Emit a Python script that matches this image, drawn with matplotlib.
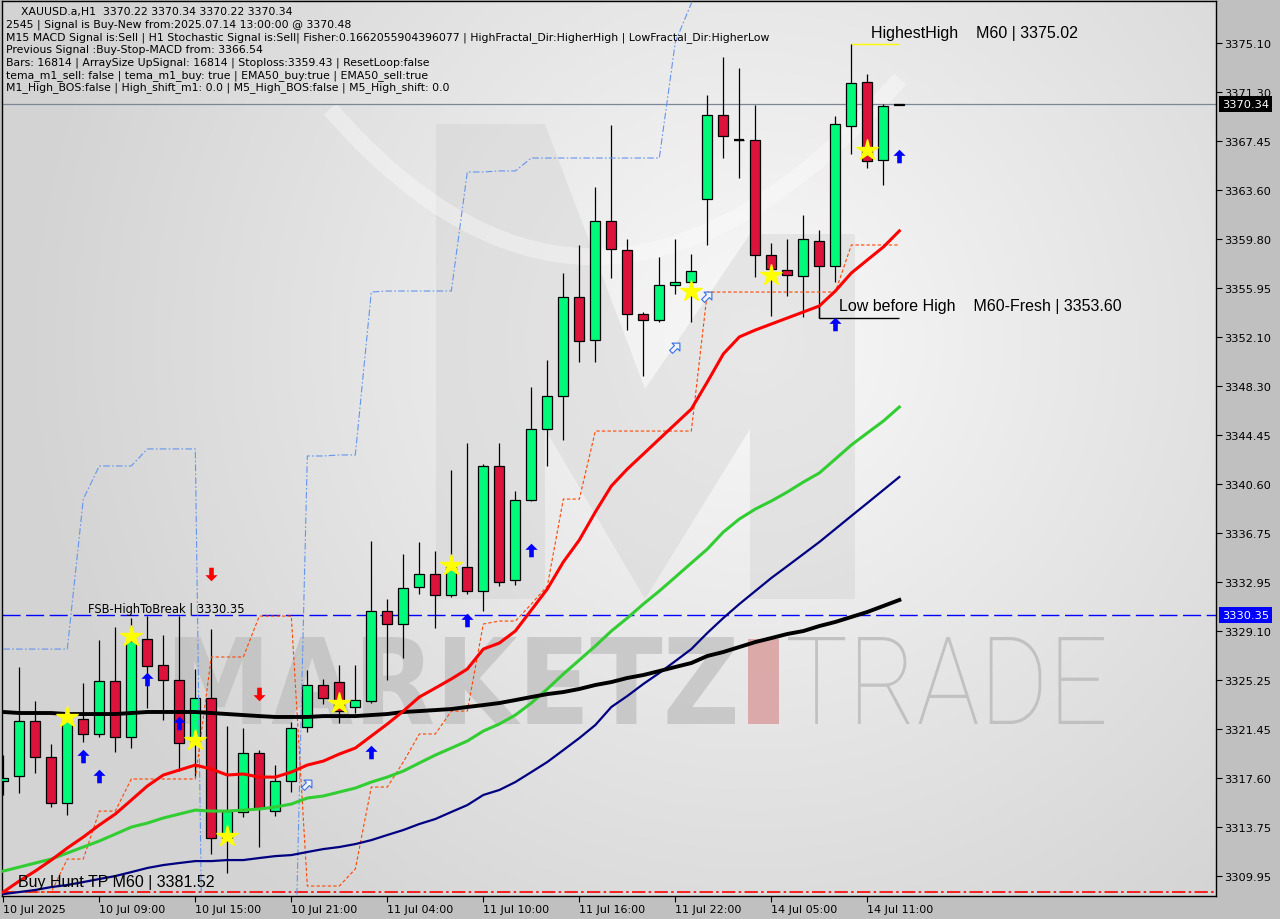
import matplotlib
matplotlib.use("Agg")
import matplotlib.pyplot as plt
import numpy as np
from matplotlib.path import Path
from matplotlib.patches import PathPatch, Polygon, Rectangle
from matplotlib.markers import MarkerStyle
from matplotlib.transforms import Affine2D, blended_transform_factory
from matplotlib.textpath import TextPath
from matplotlib.font_manager import FontProperties

# ---- data (XAUUSD.a H1) ----
time_labels = ["10 Jul 2025", "10 Jul 09:00", "10 Jul 15:00", "10 Jul 21:00", "11 Jul 04:00",
               "11 Jul 10:00", "11 Jul 16:00", "11 Jul 22:00", "14 Jul 05:00", "14 Jul 11:00"]

opens = [3317.35, 3317.75, 3322.05, 3319.23, 3315.64, 3322.20, 3321.03, 3325.18, 3320.80, 3328.46,
         3326.43, 3325.26, 3320.51, 3323.85, 3312.90, 3314.93, 3319.57, 3315.01, 3317.36, 3321.58,
         3324.89, 3325.10, 3323.14, 3323.61, 3330.65, 3329.64, 3332.55, 3333.55, 3331.90, 3334.09,
         3332.26, 3341.99, 3333.12, 3339.36, 3344.91, 3347.47, 3355.21, 3351.85, 3361.15, 3358.89,
         3353.88, 3353.41, 3356.15, 3356.38, 3362.87, 3369.44, 3367.54, 3367.49, 3358.49, 3357.34,
         3356.90, 3359.61, 3357.68, 3368.58, 3372.03, 3365.92, 3370.22]
highs = [3319.40, 3326.27, 3323.61, 3320.27, 3322.60, 3325.04, 3328.43, 3329.40, 3330.10, 3330.31,
         3328.80, 3330.31, 3326.14, 3329.27, 3321.70, 3321.50, 3319.83, 3318.63, 3321.97, 3326.09,
         3325.36, 3326.45, 3326.45, 3336.13, 3331.61, 3335.13, 3336.05, 3335.35, 3341.70, 3343.81,
         3342.17, 3343.81, 3340.06, 3348.17, 3350.31, 3357.11, 3359.30, 3363.81, 3368.69, 3359.77,
         3354.04, 3358.36, 3359.77, 3358.60, 3371.03, 3373.98, 3373.12, 3370.25, 3359.46, 3359.77,
         3361.65, 3360.50, 3369.41, 3375.02, 3372.67, 3370.33, 3370.34]
lows = [3316.30, 3316.42, 3317.98, 3315.32, 3314.74, 3320.45, 3320.80, 3319.62, 3319.96, 3323.11,
        3322.17, 3318.19, 3317.67, 3311.67, 3310.16, 3314.54, 3312.19, 3314.67, 3316.49, 3321.24,
        3323.38, 3321.89, 3322.67, 3323.46, 3325.30, 3326.98, 3332.01, 3329.37, 3331.77, 3332.01,
        3330.70, 3332.65, 3332.73, 3339.30, 3342.04, 3344.07, 3350.13, 3350.17, 3356.74, 3352.67,
        3349.08, 3353.30, 3355.47, 3353.30, 3359.32, 3366.08, 3364.56, 3356.77, 3353.72, 3355.33,
        3353.65, 3353.59, 3356.43, 3366.44, 3365.30, 3364.02, 3370.22]
closes = [3317.60, 3322.10, 3319.23, 3315.64, 3322.05, 3321.03, 3325.18, 3320.80, 3328.35, 3326.35,
          3325.26, 3320.35, 3323.85, 3312.90, 3315.01, 3319.57, 3315.24, 3317.36, 3321.50, 3324.89,
          3323.85, 3322.88, 3323.72, 3330.65, 3329.64, 3332.45, 3333.55, 3331.90, 3334.09, 3332.26,
          3341.99, 3332.97, 3339.33, 3344.91, 3347.47, 3355.21, 3351.77, 3361.15, 3358.96, 3353.88,
          3353.41, 3356.15, 3356.38, 3357.24, 3369.44, 3367.80, 3367.54, 3358.49, 3357.40, 3356.98,
          3359.77, 3357.63, 3368.74, 3371.95, 3365.85, 3370.15, 3370.34]

ema_red = [3308.70, 3309.56, 3310.34, 3311.20, 3312.14, 3313.00, 3313.94, 3314.80, 3315.89, 3316.99,
           3317.85, 3318.24, 3318.63, 3318.32, 3317.85, 3317.93, 3317.69, 3317.69, 3318.08, 3318.63,
           3318.94, 3319.49, 3319.96, 3320.90, 3321.84, 3322.85, 3323.95, 3324.65, 3325.36, 3326.14,
           3327.70, 3328.17, 3329.11, 3330.75, 3332.40, 3334.51, 3336.23, 3338.42, 3340.45, 3341.78,
           3342.95, 3344.13, 3345.30, 3346.47, 3348.59, 3350.78, 3352.11, 3352.65, 3353.12, 3353.59,
           3354.06, 3354.53, 3355.70, 3357.11, 3358.13, 3359.14, 3360.40]
ema_green = [3310.34, 3310.65, 3310.97, 3311.28, 3311.75, 3312.22, 3312.69, 3313.23, 3313.78, 3314.09,
             3314.49, 3314.80, 3315.11, 3315.03, 3315.03, 3315.11, 3315.19, 3315.35, 3315.58, 3316.05,
             3316.21, 3316.52, 3316.83, 3317.30, 3317.69, 3318.16, 3318.79, 3319.41, 3319.96, 3320.51,
             3321.29, 3321.84, 3322.54, 3323.48, 3324.58, 3325.75, 3326.84, 3327.94, 3329.11, 3330.13,
             3331.22, 3332.24, 3333.33, 3334.43, 3335.52, 3336.85, 3337.87, 3338.65, 3339.28, 3339.98,
             3340.76, 3341.47, 3342.56, 3343.66, 3344.60, 3345.53, 3346.63]
ema_navy = [3308.54, 3308.70, 3308.86, 3309.09, 3309.25, 3309.48, 3309.72, 3309.95, 3310.26, 3310.58,
            3310.81, 3310.97, 3311.12, 3311.12, 3311.20, 3311.20, 3311.36, 3311.51, 3311.59, 3311.83,
            3312.06, 3312.22, 3312.45, 3312.76, 3313.16, 3313.55, 3314.02, 3314.41, 3314.96, 3315.50,
            3316.29, 3316.68, 3317.30, 3318.08, 3318.87, 3319.80, 3320.74, 3321.76, 3323.17, 3324.03,
            3324.97, 3325.83, 3326.76, 3327.70, 3328.96, 3330.13, 3331.22, 3332.24, 3333.26, 3334.19,
            3335.13, 3336.07, 3337.09, 3338.11, 3339.12, 3340.14, 3341.16]
sma_black = [3322.78, 3322.70, 3322.70, 3322.70, 3322.62, 3322.62, 3322.62, 3322.62, 3322.70, 3322.78,
             3322.78, 3322.78, 3322.78, 3322.70, 3322.62, 3322.54, 3322.46, 3322.39, 3322.39, 3322.39,
             3322.46, 3322.46, 3322.46, 3322.54, 3322.62, 3322.78, 3322.85, 3322.93, 3323.01, 3323.17,
             3323.32, 3323.48, 3323.71, 3323.95, 3324.18, 3324.34, 3324.58, 3324.89, 3325.12, 3325.44,
             3325.67, 3325.98, 3326.30, 3326.61, 3327.16, 3327.47, 3327.86, 3328.25, 3328.56, 3328.88,
             3329.11, 3329.50, 3329.82, 3330.21, 3330.60, 3331.07, 3331.54]
trail_low = [3308.70, 3308.70, 3308.70, 3308.70, 3311.28, 3311.28, 3315.03, 3315.03, 3317.54, 3317.54,
             3317.54, 3317.54, 3317.54, 3327.08, 3327.08, 3327.08, 3330.28, 3330.28, 3330.28, 3309.17,
             3309.17, 3309.17, 3310.50, 3316.91, 3316.91, 3318.87, 3321.06, 3321.06, 3322.85, 3322.85,
             3329.66, 3329.89, 3329.89, 3331.22, 3332.63, 3339.43, 3339.43, 3344.75, 3344.75, 3344.75,
             3344.75, 3344.75, 3344.75, 3344.75, 3355.62, 3355.62, 3355.62, 3355.62, 3355.62, 3355.62,
             3355.62, 3355.62, 3355.62, 3359.30, 3359.30, 3359.30, 3359.30]
trail_high = [3327.70, 3327.70, 3327.70, 3327.70, 3327.70, 3339.43, 3342.02, 3342.02, 3342.02, 3343.35,
              3343.35, 3343.35, 3343.35, 3250.00, 3250.00, 3250.00, 3250.00, 3250.00, 3290.00, 3342.80,
              3342.80, 3342.88, 3342.88, 3355.62, 3355.70, 3355.70, 3355.70, 3355.70, 3355.70, 3365.01,
              3365.01, 3365.09, 3365.09, 3366.10, 3366.10, 3366.10, 3366.10, 3366.10, 3366.10, 3366.10,
              3366.10, 3366.10, 3375.18, 3378.20, 3390.00, 3390.00, 3390.00, 3390.00, 3390.00, 3390.00,
              3390.00, 3390.00, 3390.00, 3390.00, 3390.00, 3390.00, 3390.00]

buy_arrow_bars = [5, 6, 9, 11, 23, 29, 33, 52, 56]
buy_arrow_prices = [3319.33, 3317.77, 3325.36, 3321.92, 3319.65, 3329.97, 3335.45, 3353.12, 3366.26]
sell_arrow_bars = [13, 16]
sell_arrow_prices = [3333.57, 3324.18]
star_bars = [4, 8, 12, 14, 21, 28, 43, 48, 54]
star_prices = [3322.38, 3328.72, 3320.59, 3313.08, 3323.48, 3334.27, 3355.70, 3356.95, 3366.73]
hollow_bars = [19, 42, 44]
hollow_prices = [3317.15, 3351.32, 3355.31]

price_ticks = [3375.10, 3371.30, 3367.45, 3363.60, 3359.80, 3355.95, 3352.10, 3348.30, 3344.45,
               3340.60, 3336.75, 3332.95, 3329.10, 3325.25, 3321.45, 3317.60, 3313.75, 3309.95]

last_price = 3370.34
fsb_level = 3330.35
highest_high = 3375.02
low_before_high = 3353.60
tp_line = 3308.70

info_lines = [
    "2545 | Signal is Buy-New from:2025.07.14 13:00:00 @ 3370.48",
    "M15 MACD Signal is:Sell | H1 Stochastic Signal is:Sell| Fisher:0.1662055904396077 | HighFractal_Dir:HigherHigh | LowFractal_Dir:HigherLow",
    "Previous Signal :Buy-Stop-MACD from: 3366.54",
    "Bars: 16814 | ArraySize UpSignal: 16814 | Stoploss:3359.43 | ResetLoop:false",
    "tema_m1_sell: false | tema_m1_buy: true | EMA50_buy:true | EMA50_sell:true",
    "M1_High_BOS:false | High_shift_m1: 0.0 | M5_High_BOS:false | M5_High_shift: 0.0",
]

opens = np.array(opens)
closes = np.array(closes)
highs = np.array(highs)
lows = np.array(lows)
n = len(opens)
bars = np.arange(n)

fig = plt.figure(figsize=(12.8, 9.2), dpi=100, facecolor="#c0c0c0")
ax = fig.add_axes([2 / 1280, 23 / 920, 1214 / 1280, 895 / 920])


def apt(x, y):
    # screen pixel -> axes fraction (decoration only)
    return ((x - 2) / 1214, (897 - y) / 895)


# background gradient
gx, gy = np.meshgrid(np.linspace(0, 1, 300), np.linspace(0, 1, 300))
shade = 0.975 - 0.15 * np.sqrt(((gx - 0.62) / 0.62) ** 2 + ((gy - 0.62) / 0.85) ** 2)
shade = np.clip(shade, 0.83, 0.975)
ax.imshow(np.dstack([shade] * 3), extent=[0, 1, 0, 1], transform=ax.transAxes,
          origin="lower", aspect="auto", zorder=0, interpolation="bilinear")

# watermark: M logo
m_logo = [(436, 600), (436, 125), (545, 125), (645, 390), (750, 235), (855, 235), (855, 600),
          (750, 600), (750, 430), (645, 600), (545, 430), (545, 600)]
ax.add_patch(Polygon([apt(*p) for p in m_logo], closed=True, transform=ax.transAxes,
                     facecolor="#cfcfcf", edgecolor="none", alpha=0.4, zorder=0.5))
swoosh = Path([apt(330, 110), apt(600, 420), apt(900, 80)], [Path.MOVETO, Path.CURVE3, Path.CURVE3])
ax.add_patch(PathPatch(swoosh, transform=ax.transAxes, facecolor="none", edgecolor="white",
                       lw=12, alpha=0.35, zorder=0.6))


def fit_text(s, prop, x0, y0, x1, y1, color, alpha):
    tp = TextPath((0, 0), s, size=100, prop=prop)
    bb = tp.get_extents()
    (ax0, ay0), (ax1, ay1) = apt(x0, y1), apt(x1, y0)
    tr = Affine2D().translate(-bb.x0, -bb.y0).scale((ax1 - ax0) / bb.width, (ay1 - ay0) / bb.height).translate(ax0, ay0)
    ax.add_patch(PathPatch(tr.transform_path(tp), transform=ax.transAxes, facecolor=color,
                           edgecolor="none", alpha=alpha, zorder=0.7))


fit_text("MARKETZ", FontProperties(family="DejaVu Sans", weight="bold"), 175, 638, 735, 725, "#bdbdbd", 0.7)
fit_text("TRADE", FontProperties(family="Roboto", weight="light"), 788, 638, 1104, 725, "#b9b9b9", 0.8)
r0, r1 = apt(748, 725), apt(779, 640)
ax.add_patch(Rectangle(r0, r1[0] - r0[0], r1[1] - r0[1], transform=ax.transAxes,
                       facecolor="#d99a9a", edgecolor="none", alpha=0.8, zorder=0.7))

# candles
up = closes >= opens
body_low = np.minimum(opens, closes)
body_h = np.abs(closes - opens)
ax.vlines(bars, lows, highs, color="black", lw=0.9, zorder=3)
body_colors = np.where(up, "#00fa7a", "#dc143c")
ax.bar(bars, body_h, bottom=body_low, width=0.62, color=body_colors, edgecolor="black",
       linewidth=0.9, zorder=3.5)
doji = body_h < 0.05
ax.hlines(opens[doji], bars[doji] - 0.31, bars[doji] + 0.31, color="black", lw=1.6, zorder=3.6)

# indicators
ax.plot(bars, trail_high, color="#6495ed", lw=0.8, ls=(0, (6, 2, 1.5, 2)), zorder=4)
ax.plot(bars, trail_low, color="#ff4500", lw=0.8, ls=(0, (3, 2)), zorder=4)
ax.plot(bars, ema_navy, color="#000080", lw=1.6, zorder=4.1)
ax.plot(bars, ema_green, color="#32cd32", lw=2.2, zorder=4.1)
ax.plot(bars, sma_black, color="black", lw=2.8, zorder=4.2)
ax.plot(bars, ema_red, color="#ff0000", lw=2.2, zorder=4.3)

# horizontal levels
ax.axhline(last_price, color="#7a8796", lw=0.9, zorder=2)
ax.axhline(fsb_level, color="#0000ff", lw=1.0, ls=(0, (13, 4)), zorder=2)
ax.axhline(tp_line, color="#ff0000", lw=1.2, ls=(0, (8, 2, 1.5, 2)), zorder=2)
ax.hlines(highest_high, 53, 56, color="#ffff00", lw=1.0, zorder=2)
ax.vlines(51, low_before_high, 3354.53, color="black", lw=1.0, zorder=2)
ax.hlines(low_before_high, 51, 56, color="black", lw=1.0, zorder=2)

# signal markers
av = [(0, 0.5), (0.45, 0.05), (0.17, 0.05), (0.17, -0.5), (-0.17, -0.5), (-0.17, 0.05), (-0.45, 0.05), (0, 0.5)]
arrow_up = Path(av, [Path.MOVETO] + [Path.LINETO] * 6 + [Path.CLOSEPOLY])
arrow_down = Path([(x, -y) for x, y in av], [Path.MOVETO] + [Path.LINETO] * 6 + [Path.CLOSEPOLY])
ax.scatter(buy_arrow_bars, buy_arrow_prices, marker=arrow_up, s=95, color="#0000ff", linewidths=0, zorder=6)
ax.scatter(sell_arrow_bars, sell_arrow_prices, marker=arrow_down, s=95, color="#ff0000", linewidths=0, zorder=6)
ax.scatter(hollow_bars, hollow_prices, marker=MarkerStyle(arrow_up, transform=Affine2D().rotate_deg(-45)),
           s=80, facecolor="#eef3ff", edgecolor="#3a6fe0", linewidths=0.8, zorder=6)
ax.plot(star_bars, star_prices, ls="none", marker="*", ms=16, color="#ffff00", mec="#ffff00", zorder=6)

# labels in chart
lab = dict(family="Liberation Sans", fontsize=11.5, color="black", va="center", ha="left", zorder=7)
ax.text(54.2, 3375.95, "HighestHigh    M60 | 3375.02", **lab)
ax.text(52.2, 3354.53, "Low before High    M60-Fresh | 3353.60", **lab)
ax.text(0.92, 3309.56, "Buy Hunt TP M60 | 3381.52", **lab)
ax.text(5.3, 3330.91, "FSB-HighToBreak | 3330.35", family="DejaVu Sans", fontsize=8.3,
        color="black", va="center", ha="left", zorder=7)

fig.text(21 / 1280, 1 - 12 / 920, "XAUUSD.a,H1  3370.22 3370.34 3370.22 3370.34", fontsize=7.8,
         va="center", ha="left", family="DejaVu Sans")
for k, line in enumerate(info_lines):
    fig.text(6 / 1280, 1 - (25 + 12.6 * k) / 920, line, fontsize=7.8, va="center", ha="left",
             family="DejaVu Sans")

# axes
ax.set_xlim(-0.081, 75.79)
ax.set_ylim(3308.39, 3378.38)
ax.yaxis.tick_right()
ax.set_yticks(price_ticks)
ax.set_yticklabels([f"{v:.2f}" for v in price_ticks])
ax.set_xticks(range(0, n, 6))
ax.set_xticklabels(time_labels, ha="left")
ax.tick_params(axis="y", length=4, width=0.8, pad=2, labelsize=8.2, colors="black")
ax.tick_params(axis="x", length=4, width=0.8, pad=2, labelsize=8, colors="black")
for sp in ax.spines.values():
    sp.set_color("black")
    sp.set_linewidth(1.0)

bt = blended_transform_factory(ax.transAxes, ax.transData)
ax.text(1.0 + 6 / 1214, last_price, f"{last_price:.2f}", transform=bt, ha="left", va="center",
        fontsize=8.2, color="white", clip_on=False, zorder=8,
        bbox=dict(boxstyle="square,pad=0.25", fc="black", ec="none"))
ax.text(1.0 + 6 / 1214, fsb_level, f"{fsb_level:.2f}", transform=bt, ha="left", va="center",
        fontsize=8.2, color="white", clip_on=False, zorder=8,
        bbox=dict(boxstyle="square,pad=0.25", fc="#0000ff", ec="none"))

fig.savefig("out.png", dpi=100, facecolor=fig.get_facecolor())
